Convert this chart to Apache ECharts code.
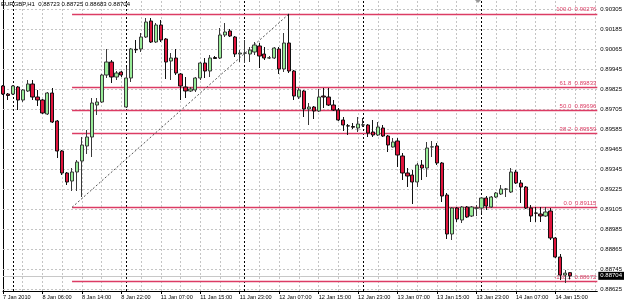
<!DOCTYPE html>
<html>
<head>
<meta charset="utf-8">
<style>
  html, body { margin: 0; padding: 0; background: #fff; }
  #chart { width: 625px; height: 303px; }
</style>
<script src="https://cdn.jsdelivr.net/npm/echarts@6/dist/echarts.min.js"></script>
</head>
<body>
<div id="chart"></div>
<script>
// EURGBP H1, bar 0 = 7 Jan 2010 22:00
const opens = [0.89843,0.89795,0.89795,0.89837,0.89759,0.89813,0.89855,0.89777,0.89759,0.89675,
  0.89801,0.89633,0.89453,0.89321,0.89273,0.89327,0.89393,0.89483,0.89537,0.89729,
  0.89747,0.89909,0.89987,0.89897,0.89927,0.89717,0.89891,0.90063,0.90065,0.90137,
  0.90233,0.90107,0.90209,0.90125,0.89993,0.90011,0.89915,0.89837,0.89813,0.89819,
  0.89891,0.89981,0.89933,0.90014,0.90011,0.90149,0.90173,0.90137,0.90035,0.90040,
  0.90035,0.90047,0.90083,0.90035,0.90011,0.90011,0.90065,0.89945,0.90101,0.89933,
  0.89777,0.89813,0.89705,0.89717,0.89693,0.89783,0.89777,0.89729,0.89699,0.89639,
  0.89604,0.89600,0.89591,0.89609,0.89609,0.89567,0.89549,0.89591,0.89543,0.89477,
  0.89513,0.89423,0.89321,0.89309,0.89267,0.89369,0.89351,0.89477,0.89483,0.89381,
  0.89189,0.88955,0.89111,0.89039,0.89117,0.89063,0.89110,0.89111,0.89171,0.89117,
  0.89177,0.89195,0.89224,0.89207,0.89327,0.89261,0.89237,0.89111,0.89081,0.89075,
  0.89063,0.89093,0.88931,0.88817,0.88709,0.88723];
const closes = [0.89795,0.89786,0.89843,0.89759,0.89819,0.89855,0.89777,0.89759,0.89681,0.89801,
  0.89627,0.89453,0.89321,0.89267,0.89327,0.89387,0.89489,0.89537,0.89741,0.89747,
  0.89909,0.89987,0.89897,0.89921,0.89909,0.89891,0.90065,0.90060,0.90137,0.90227,
  0.90107,0.90209,0.90119,0.89987,0.90011,0.89921,0.89843,0.89813,0.89825,0.89891,
  0.89981,0.89933,0.90011,0.90008,0.90149,0.90167,0.90143,0.90035,0.90041,0.90041,
  0.90059,0.90089,0.90023,0.90011,0.90012,0.90071,0.89945,0.90101,0.89933,0.89783,
  0.89819,0.89705,0.89717,0.89693,0.89777,0.89777,0.89729,0.89699,0.89639,0.89609,
  0.89603,0.89596,0.89615,0.89610,0.89561,0.89549,0.89597,0.89543,0.89489,0.89507,
  0.89429,0.89321,0.89303,0.89267,0.89369,0.89351,0.89471,0.89478,0.89381,0.89183,
  0.88955,0.89111,0.89045,0.89117,0.89057,0.89117,0.89111,0.89171,0.89123,0.89177,
  0.89201,0.89225,0.89225,0.89327,0.89261,0.89237,0.89111,0.89063,0.89080,0.89063,
  0.89087,0.88931,0.88817,0.88709,0.88720,0.88704];
const lows = [0.89789,0.89759,0.89789,0.89699,0.89747,0.89807,0.89759,0.89723,0.89675,0.89669,
  0.89621,0.89411,0.89309,0.89249,0.89213,0.89213,0.89177,0.89435,0.89417,0.89669,
  0.89741,0.89891,0.89861,0.89879,0.89897,0.89711,0.89867,0.90041,0.90047,0.90131,
  0.90101,0.90101,0.90107,0.89885,0.89879,0.89909,0.89759,0.89771,0.89807,0.89807,
  0.89879,0.89891,0.89897,0.90005,0.90005,0.90137,0.90137,0.90017,0.89987,0.89981,
  0.89987,0.90029,0.89951,0.89999,0.90005,0.90005,0.89915,0.89927,0.89921,0.89759,
  0.89765,0.89657,0.89609,0.89645,0.89687,0.89711,0.89723,0.89693,0.89633,0.89573,
  0.89549,0.89585,0.89567,0.89597,0.89537,0.89537,0.89543,0.89537,0.89447,0.89474,
  0.89357,0.89279,0.89237,0.89135,0.89237,0.89279,0.89297,0.89417,0.89369,0.89147,
  0.88925,0.88919,0.89027,0.89021,0.89051,0.89057,0.89063,0.89081,0.89099,0.89111,
  0.89171,0.89189,0.89177,0.89201,0.89255,0.89141,0.89105,0.89027,0.89027,0.89027,
  0.89057,0.88919,0.88811,0.88679,0.88661,0.88683];
const highs = [0.89849,0.89801,0.89849,0.89843,0.89825,0.89879,0.89879,0.89819,0.89765,0.89807,
  0.89831,0.89639,0.89459,0.89327,0.89351,0.89399,0.89537,0.89579,0.89771,0.89771,
  0.89915,0.90065,0.89999,0.89933,0.89933,0.89957,0.90071,0.90119,0.90161,0.90251,
  0.90251,0.90221,0.90239,0.90131,0.90041,0.90065,0.89921,0.89897,0.89837,0.89897,
  0.89987,0.90011,0.90029,0.90023,0.90191,0.90221,0.90185,0.90143,0.90059,0.90119,
  0.90077,0.90107,0.90101,0.90077,0.90023,0.90077,0.90077,0.90161,0.90276,0.89939,
  0.89831,0.89819,0.89741,0.89723,0.89825,0.89831,0.89831,0.89759,0.89711,0.89657,
  0.89615,0.89621,0.89657,0.89651,0.89615,0.89639,0.89627,0.89609,0.89549,0.89531,
  0.89531,0.89441,0.89351,0.89339,0.89381,0.89399,0.89507,0.89513,0.89501,0.89387,
  0.89201,0.89117,0.89117,0.89123,0.89123,0.89123,0.89129,0.89177,0.89183,0.89183,
  0.89207,0.89249,0.89231,0.89351,0.89339,0.89279,0.89243,0.89129,0.89117,0.89117,
  0.89117,0.89111,0.88937,0.88835,0.88739,0.88725];

const timeTickIdx = [0, 8, 16, 24, 32, 40, 48, 56, 64, 72, 80, 88, 96, 104, 112];
const timeTickLabels = ['7 Jan 2010', '8 Jan 06:00', '8 Jan 14:00', '8 Jan 22:00', '11 Jan 07:00',
  '11 Jan 15:00', '11 Jan 23:00', '12 Jan 07:00', '12 Jan 15:00', '12 Jan 23:00',
  '13 Jan 07:00', '13 Jan 15:00', '13 Jan 23:00', '14 Jan 07:00', '14 Jan 15:00'];
const gridCols = [4, 8, 12, 16, 20, 24, 28, 32, 36, 40, 44, 48, 52, 56, 60, 64, 68, 72, 76,
  80, 84, 88, 92, 96, 100, 104, 108, 112, 116, 120];
const daySeparators = [2, 25, 49, 73, 97];
const priceTicks = [0.88625, 0.88745, 0.88865, 0.88985, 0.89105, 0.89225, 0.89345, 0.89465,
  0.89585, 0.89705, 0.89825, 0.89945, 0.90065, 0.90185, 0.90305];

const fibNames = ['100.0', '61.8', '50.0', '38.2', '0.0', '-138.2'];
const fibPrices = [0.90276, 0.89833, 0.89696, 0.89559, 0.89115, 0.88672];
const fibFrom = [14.0, 0.89115];
const fibTo = [58.0, 0.90276];
const lastPrice = 0.88704;
const header = 'EURGBP,H1  0.88723 0.88725 0.88683 0.88704';

const X_MIN = 0, X_MAX = 120.5;
const Y_MIN = 0.88613, Y_MAX = 0.90359;
const FONT = 'Liberation Sans';
const FIB_COLOR = '#dc3c64';

const candles = opens.map((o, i) => [i, o, closes[i], lows[i], highs[i]]);

const chart = echarts.init(document.getElementById('chart'));

// straight segments as coord pairs (single-value markLines misbehave here)
const hLine = v => [{ coord: [X_MIN, v] }, { coord: [X_MAX, v] }];
const vLine = v => [{ coord: [v, Y_MIN] }, { coord: [v, Y_MAX] }];

const fibLines = fibPrices.map((p, k) => [
  { coord: [fibFrom[0], p], label: { formatter: fibNames[k] + '  ' + p.toFixed(5) } },
  { coord: [X_MAX, p] }
]);

const plainMark = (lineStyle, data) => ({
  silent: true,
  symbol: ['none', 'none'],
  label: { show: false },
  lineStyle: lineStyle,
  data: data
});

chart.setOption({
  animation: false,
  backgroundColor: '#fff',
  textStyle: { fontFamily: FONT },
  grid: { left: 0, right: 26, top: 0, bottom: 12 },
  xAxis: {
    type: 'value',
    min: X_MIN,
    max: X_MAX,
    axisLine: { show: true, onZero: false, lineStyle: { color: '#000', width: 1 } },
    axisTick: { show: true, customValues: timeTickIdx, length: 3, lineStyle: { color: '#000' } },
    axisLabel: {
      show: true,
      customValues: timeTickIdx,
      formatter: v => timeTickLabels[timeTickIdx.indexOf(Math.round(v))] || '',
      align: 'left',
      margin: 3,
      fontSize: 5.6,
      color: '#000',
      fontFamily: FONT,
      hideOverlap: false
    },
    splitLine: { show: false }
  },
  yAxis: {
    type: 'value',
    position: 'right',
    min: Y_MIN,
    max: Y_MAX,
    axisLine: { show: true, lineStyle: { color: '#000', width: 1 } },
    axisTick: { show: true, customValues: priceTicks, length: 2, lineStyle: { color: '#000' } },
    axisLabel: {
      show: true,
      customValues: priceTicks,
      formatter: v => v.toFixed(5),
      margin: 3,
      fontSize: 6,
      color: '#000',
      fontFamily: FONT,
      hideOverlap: false
    },
    splitLine: { show: false }
  },
  series: [
    {
      name: 'grid',
      type: 'line',
      data: [],
      z: 1,
      silent: true,
      markLine: plainMark({ color: '#c4c4c4', type: [2, 2], width: 1 },
        gridCols.map(vLine).concat(priceTicks.map(hLine)))
    },
    {
      name: 'separators',
      type: 'line',
      data: [],
      z: 2,
      silent: true,
      markLine: plainMark({ color: '#000', type: [2, 2], width: 1 }, daySeparators.map(vLine))
    },
    {
      name: 'bid',
      type: 'line',
      data: [],
      z: 3,
      silent: true,
      markLine: {
        silent: true,
        symbol: ['none', 'none'],
        lineStyle: { color: '#c8c8c8', type: 'solid', width: 1 },
        label: {
          show: true,
          position: 'end',
          distance: 1,
          formatter: lastPrice.toFixed(5),
          color: '#fff',
          backgroundColor: '#000',
          padding: [1, 2, 1, 2],
          fontSize: 6,
          fontFamily: FONT
        },
        data: [hLine(lastPrice)]
      }
    },
    {
      name: 'fibo',
      type: 'line',
      data: [],
      z: 4,
      silent: true,
      markLine: {
        silent: true,
        symbol: ['none', 'none'],
        lineStyle: { color: FIB_COLOR, type: 'solid', width: 1.3 },
        label: {
          show: true,
          position: 'insideEndTop',
          distance: 1,
          color: FIB_COLOR,
          fontSize: 6,
          fontFamily: FONT
        },
        data: fibLines.concat([[
          { coord: fibFrom, label: { show: false }, lineStyle: { color: '#555', type: [2, 2], width: 1 } },
          { coord: fibTo }
        ]])
      }
    },
    {
      name: 'EURGBP',
      type: 'candlestick',
      z: 5,
      barWidth: 3.7,
      data: candles,
      itemStyle: {
        color: '#98ec98',
        color0: '#e0143c',
        borderColor: '#3a3a3a',
        borderColor0: '#111',
        borderWidth: 1
      }
    }
  ],
  graphic: [
    {
      type: 'text',
      left: 1,
      top: 1,
      z: 100,
      style: { text: header, fontSize: 6, fontFamily: FONT, fill: '#000' }
    },
    {
      type: 'polygon',
      z: 100,
      shape: { points: [[475, 0], [481, 0], [478, 3]] },
      style: { fill: '#999' }
    }
  ]
});
</script>
</body>
</html>
